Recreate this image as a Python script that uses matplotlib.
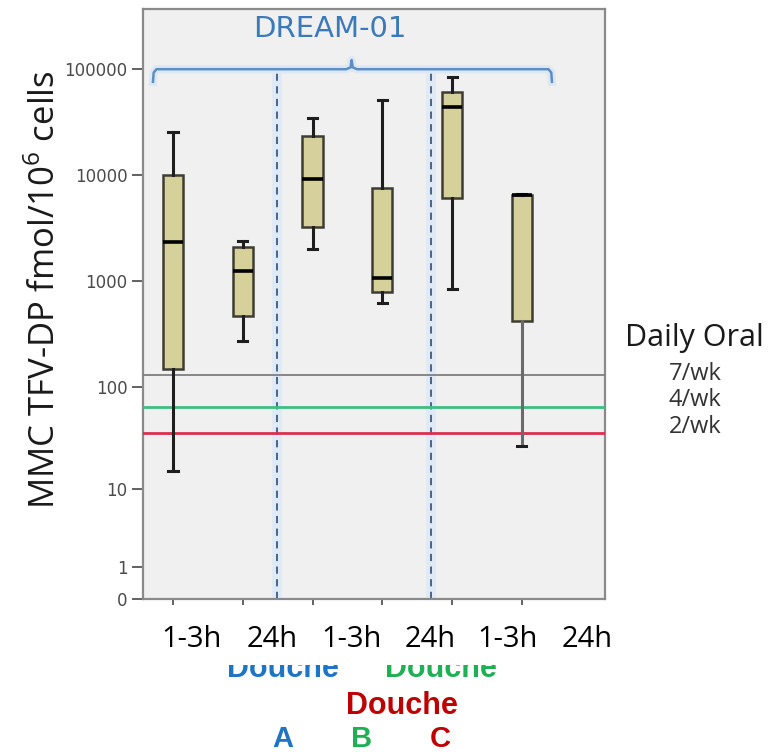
import numpy as np
import matplotlib
matplotlib.use("Agg")
import matplotlib.pyplot as plt
from matplotlib.patches import Rectangle
from matplotlib.transforms import Bbox, TransformedBbox

plt.rcParams["mathtext.fontset"] = "custom"
plt.rcParams["mathtext.rm"] = "Open Sans"

# ---- data -------------------------------------------------------------
time_labels = ["1-3h", "24h", "1-3h", "24h", "1-3h", "24h"]
whisker_low = [15, 270, 2000, 620, 850, 27]
quartile_1 = [147, 470, 3230, 785, 6070, 420]
medians = [2330, 1240, 9200, 1080, 43800, 6500]
quartile_3 = [10000, 2090, 23300, 7540, 60700, 6500]
whisker_high = [25400, 2380, 34500, 51000, 84000, 6650]

oral_labels = ["7/wk", "4/wk", "2/wk"]
oral_levels = [130, 64, 36]
oral_colors = ["#7f7f7f", "#3dbf7f", "#dc2f4c"]

douche_groups = ["A", "B", "C"]
douche_colors = ["#1f74c4", "#1fb055", "#c00000"]

y_ticks = [0, 1, 10, 100, 1000, 10000, 100000]
group_separators = [2.49, 4.70]
study_name = "DREAM-01"

# ---- figure -----------------------------------------------------------
W, H = 783, 753
fig = plt.figure(figsize=(W / 100, H / 100), dpi=100)
ax = fig.add_axes([143 / W, 1 - 599 / H, (605 - 143) / W, (599 - 9) / H])
ax.set_facecolor("#f0f0f0")

# log10(x + 1) axis so that zero can be shown
fwd = lambda v: np.log10(np.clip(v, -0.999999, None) + 1)
inv = lambda v: 10 ** v - 1
ax.set_yscale("function", functions=(fwd, inv))
ax.set_ylim(0, 3.7e5)
ax.set_xlim(0.57, 7.19)

positions = np.arange(1, len(medians) + 1)
stats = [dict(med=m, q1=a, q3=b, whislo=lo, whishi=hi, fliers=[])
         for m, a, b, lo, hi in zip(medians, quartile_1, quartile_3,
                                    whisker_low, whisker_high)]
bp = ax.bxp(stats, positions=positions, widths=0.29, capwidths=0.13,
            patch_artist=True, showfliers=False,
            boxprops=dict(facecolor="#d6d19b", edgecolor="#3d3d33", linewidth=1.8),
            medianprops=dict(color="black", linewidth=2.6),
            whiskerprops=dict(color="#1e1e1e", linewidth=2.2),
            capprops=dict(color="#1e1e1e", linewidth=2.2),
            manage_ticks=False, zorder=4)
# last group's lower whisker is drawn lighter
bp["whiskers"][-2].set_color("#6a6a6a")

# reference levels for daily oral dosing
for lvl, col in zip(oral_levels, oral_colors):
    ax.axhline(lvl, color=col, lw=1.3 if col == "#7f7f7f" else 2.0, zorder=3)

# group separators
for xs in group_separators:
    ax.plot([xs, xs], [0, 1e5], color="#e0eaf6", lw=7, zorder=1, solid_capstyle="butt")
    ax.plot([xs, xs], [0, 1e5], color="#3b5b80", lw=1.3, ls=(0, (4, 3)), zorder=2)

# study brace
bx0, bx1, bmid, blev = 0.713, 6.43, 3.56, 1e5
brace_x = [bx0, bx0 + 0.01, bx0 + 0.05, bmid - 0.08, bmid - 0.015, bmid,
           bmid + 0.015, bmid + 0.08, bx1 - 0.05, bx1 - 0.01, bx1]
brace_y = [7.6e4, 9.3e4, blev, blev, 1.04e5, 1.22e5,
           1.04e5, blev, blev, 9.3e4, 7.6e4]
ax.plot(brace_x, brace_y, color="#dce8f6", lw=6, zorder=2)
ax.plot(brace_x, brace_y, color="#5b8fc4", lw=1.8, zorder=3)
ax.text(3.25, 2.4e5, study_name, color="#3a7abb", fontsize=21,
        family="DejaVu Sans", ha="center", va="center", zorder=5)

# axes styling
for s in ax.spines.values():
    s.set_color("#8a8a8a")
    s.set_linewidth(1.6)
ax.set_yticks(y_ticks)
ax.set_yticklabels([str(t) for t in y_ticks])
ax.yaxis.set_minor_locator(matplotlib.ticker.NullLocator())
ax.tick_params(axis="y", length=8, width=1.3, color="#555555", pad=3,
               labelsize=12, labelcolor="#4a4a4a")
ax.set_xticks(positions)
ax.set_xticklabels([])
ax.tick_params(axis="x", length=4, width=1.3, color="#555555")

# y label
fig.text(45 / W, 1 - 290 / H, "MMC TFV-DP fmol/10$^{6}$ cells", rotation=90,
         fontsize=25, family="Open Sans", ha="center", va="center",
         color="#1a1a1a")

# time point labels
label_x = [192, 272, 351, 430, 508, 587]
for lx, lab in zip(label_x, time_labels):
    fig.text(lx / W, 1 - 647 / H, lab, fontsize=21, family="Open Sans",
             ha="center", va="baseline", color="black")

# douche labels; the upper row is partly hidden under the time labels
clip = TransformedBbox(Bbox([[0, 0], [1, 1 - 665 / H]]), fig.transFigure)
for dx, dy, col in [(283, 677, douche_colors[0]), (441, 677, douche_colors[1]),
                    (402, 714, douche_colors[2])]:
    t = fig.text(dx / W, 1 - dy / H, "Douche", fontsize=22, weight="bold",
                 family="Liberation Sans", color=col, ha="center", va="baseline")
    if dy == 677:
        t.set_clip_box(clip)
        t.set_clip_on(True)
fig.add_artist(Rectangle((200 / W, 1 - 665 / H), 320 / W, 13 / H,
                         transform=fig.transFigure, facecolor="white",
                         edgecolor="none", zorder=10))
for gx, g, c in zip([283, 362, 440], douche_groups, douche_colors):
    fig.text(gx / W, 1 - 747 / H, g, fontsize=21, weight="bold",
             family="Liberation Sans", color=c, ha="center", va="baseline")

# daily oral legend text
fig.text(694 / W, 1 - 338 / H, "Daily Oral", fontsize=22, family="Open Sans",
         ha="center", va="center", color="#1a1a1a")
for ty, lab in zip([374, 400, 427], oral_labels):
    fig.text(695 / W, 1 - ty / H, lab, fontsize=17, family="Open Sans",
             ha="center", va="center", color="#333333")

fig.savefig("out.png", dpi=100)
